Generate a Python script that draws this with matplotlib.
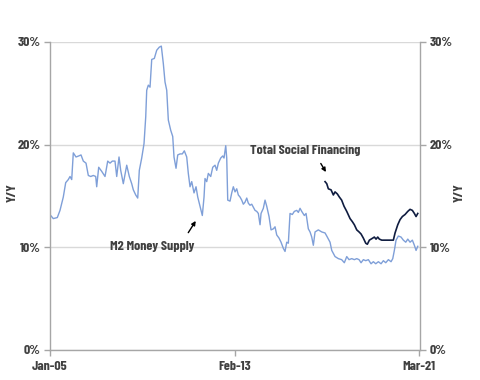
import matplotlib
matplotlib.use("Agg")
import matplotlib.pyplot as plt
from matplotlib.ticker import FixedLocator, FuncFormatter

# months since Jan-2005
m2_month = [0.37, 1.73, 3.84, 5.26, 6.99, 8.25, 9.62, 10.52, 11.41, 12.25, 13.67, 15.09, 16.30, 17.51,
            18.93, 20.14, 21.40, 22.77, 24.03, 24.55, 25.60, 27.18, 28.92, 30.34, 31.55, 32.75, 34.17,
            35.07, 36.28, 37.17, 38.54, 40.33, 41.69, 42.95, 43.80, 45.06, 46.11, 46.95, 48.21, 49.42,
            50.32, 50.84, 51.68, 52.58, 53.47, 54.84, 56.10, 57.47, 58.52, 59.57, 60.46, 61.36, 62.20,
            63.46, 64.51, 65.19, 66.25, 67.14, 68.35, 69.56, 70.61, 71.87, 72.71, 73.61, 74.50, 75.71,
            76.76, 77.66, 78.86, 80.07, 80.97, 81.49, 82.39, 83.23, 84.49, 85.54, 86.75, 87.64, 88.49,
            89.75, 90.80, 91.48, 92.38, 92.90, 93.43, 94.64, 95.53, 96.37, 97.27, 98.16, 99.00, 99.89,
            100.79, 101.63, 102.52, 103.42, 104.26, 105.15, 106.05, 106.89, 107.78, 108.68, 109.52,
            110.41, 110.94, 112.14, 113.04, 113.93, 115.14, 116.19, 117.40, 118.30, 119.19, 120.40,
            121.45, 122.66, 123.55, 124.45, 125.29, 126.18, 127.39, 128.44, 129.71, 130.55, 131.44,
            132.33, 133.70, 134.60, 135.80, 136.70, 137.59, 138.43, 139.33, 141.06, 142.85, 144.58,
            145.48, 147.21, 148.11, 149.84, 151.58, 153.31, 154.73, 155.99, 157.20, 158.62, 159.99,
            161.25, 162.46, 163.51, 164.72, 165.98, 167.35, 168.77, 169.98, 171.24, 172.61, 174.03,
            175.24, 176.50, 177.87, 179.28, 180.18, 181.02, 181.91, 183.12, 184.54, 185.75, 187.01,
            188.07, 189.27, 190.48, 191.54, 192.43, 193.32]
m2_value = [13.1, 12.8, 12.9, 13.6, 14.9, 16.3, 16.6, 16.9, 16.6, 19.2, 18.8, 18.9, 19.0, 18.4,
            18.2, 17.0, 16.9, 17.0, 16.9, 15.9, 17.8, 17.4, 16.9, 18.4, 18.2, 18.4, 18.4,
            16.9, 18.8, 17.5, 16.2, 18.0, 16.9, 16.2, 15.6, 15.1, 14.8, 17.5, 18.7, 20.1,
            22.7, 25.3, 25.8, 25.6, 28.3, 28.4, 29.2, 29.5, 29.6, 27.9, 26.1, 25.3, 22.4,
            21.4, 20.8, 18.8, 17.7, 19.0, 19.1, 19.1, 19.4, 18.8, 17.2, 15.9, 16.4, 15.3,
            15.9, 14.9, 14.0, 13.1, 14.9, 16.7, 16.4, 17.2, 16.9, 17.8, 18.0, 17.5, 18.2,
            18.7, 18.9, 18.7, 19.9, 18.7, 14.6, 14.5, 15.3, 15.9, 15.4, 15.7, 15.1, 14.9,
            14.6, 14.2, 14.4, 14.8, 14.3, 14.1, 14.2, 13.9, 13.6, 13.5, 13.3,
            12.2, 13.3, 13.8, 14.6, 14.0, 13.0, 11.7, 11.8, 12.0, 11.2, 10.9,
            10.5, 9.9, 9.6, 10.5, 10.4, 13.3, 13.2, 13.5, 13.6, 13.4, 13.8,
            13.5, 13.1, 13.3, 11.8, 11.5, 11.0, 10.2, 11.5, 11.7, 11.5, 11.4,
            11.1, 10.5, 9.7, 9.1, 8.9, 8.8, 8.5, 9.1, 8.8, 8.9, 8.8,
            8.9, 8.8, 8.5, 8.8, 8.7, 8.8, 8.4, 8.6, 8.4, 8.6, 8.4,
            8.7, 8.5, 8.8, 8.6, 8.9, 9.7, 10.7, 11.1, 11.0, 10.7, 10.5,
            10.8, 10.5, 10.7, 10.2, 9.7, 10.1]

tsf_month = [144.58, 145.48, 146.32, 147.74, 148.95, 149.84, 151.05, 152.10, 153.31, 154.57, 155.99,
             157.73, 158.94, 159.99, 161.25, 162.46, 163.51, 164.72, 165.98, 166.82, 167.88, 168.77,
             169.66, 170.50, 171.40, 172.29, 173.13, 174.40, 176.13, 177.87, 180.49, 181.39, 182.81,
             184.02, 185.23, 186.65, 188.07, 189.27, 190.48, 191.54, 192.43, 193.32]
tsf_value = [16.4, 16.2, 15.7, 15.6, 15.1, 15.4, 15.2, 14.9, 14.6, 14.0, 13.5,
             12.8, 12.5, 12.2, 11.7, 11.5, 11.3, 10.9, 10.4, 10.3, 10.7, 10.8,
             10.9, 11.0, 10.8, 11.0, 10.8, 10.7, 10.7, 10.7, 10.7, 11.4, 12.2,
             12.7, 13.0, 13.2, 13.5, 13.7, 13.6, 13.3, 13.0, 13.3]

x_tick_pos = [0, 97, 194]
x_tick_labels = ["Jan-05", "Feb-13", "Mar-21"]
y_ticks = [0, 10, 20, 30]

FONT = ["Barlow Condensed", "DejaVu Sans"]
FW = 700
FS = 10
TXT = "#404040"
SPINE = "#a6a6a6"
GRID = "#d9d9d9"

fig = plt.figure(figsize=(4.8, 3.8), dpi=100)
ax = fig.add_axes([50/480, 30/380, 370/480, 308/380])

ax.plot(m2_month, m2_value, color="#7f9fd8", lw=1.0)
ax.plot(tsf_month, tsf_value, color="#0f1c40", lw=1.2)

ax.set_xlim(0, 194.5)
ax.set_ylim(0, 30)
ax.yaxis.set_major_locator(FixedLocator(y_ticks))
ax.yaxis.set_major_formatter(FuncFormatter(lambda v, p: f"{v:.0f}%"))
ax.set_xticks(x_tick_pos)
ax.set_xticklabels(x_tick_labels)
ax.grid(axis="y", color=GRID, lw=1.0)
ax.set_axisbelow(True)

ax.spines["top"].set_visible(False)
for s in ["left", "right", "bottom"]:
    ax.spines[s].set_color(SPINE)
    ax.spines[s].set_linewidth(1.0)

ax.tick_params(axis="both", colors=SPINE, length=4, width=1, labelcolor=TXT, labelsize=FS)
ax.tick_params(axis="y", right=True, labelright=True, pad=3)
ax.tick_params(axis="x", pad=4)
for t in ax.yaxis.get_major_ticks() + ax.xaxis.get_major_ticks():
    for lab in (t.label1, t.label2):
        lab.set_family(FONT)
        lab.set_fontweight(FW)

fig.text(12/480, 1 - 193/380, "Y/Y", rotation=90, ha="center", va="center",
         family=FONT, fontweight=FW, color=TXT, fontsize=FS)
fig.text(459/480, 1 - 193/380, "Y/Y", rotation=90, ha="center", va="center",
         family=FONT, fontweight=FW, color=TXT, fontsize=FS)

ax.text(134.1, 19.4, "Total Social Financing", ha="center", va="center",
        family=FONT, fontweight=FW, color=TXT, fontsize=FS)
ax.annotate("", xy=(145.8, 17.1), xytext=(141.6, 18.4),
            arrowprops=dict(arrowstyle="-|>", color="black", lw=1.0, mutation_scale=6))
ax.text(53.5, 10.1, "M2 Money Supply", ha="center", va="center",
        family=FONT, fontweight=FW, color=TXT, fontsize=FS)
ax.annotate("", xy=(77.4, 12.8), xytext=(71.9, 11.2),
            arrowprops=dict(arrowstyle="-|>", color="black", lw=1.0, mutation_scale=6))

fig.savefig("out.png", dpi=100)
